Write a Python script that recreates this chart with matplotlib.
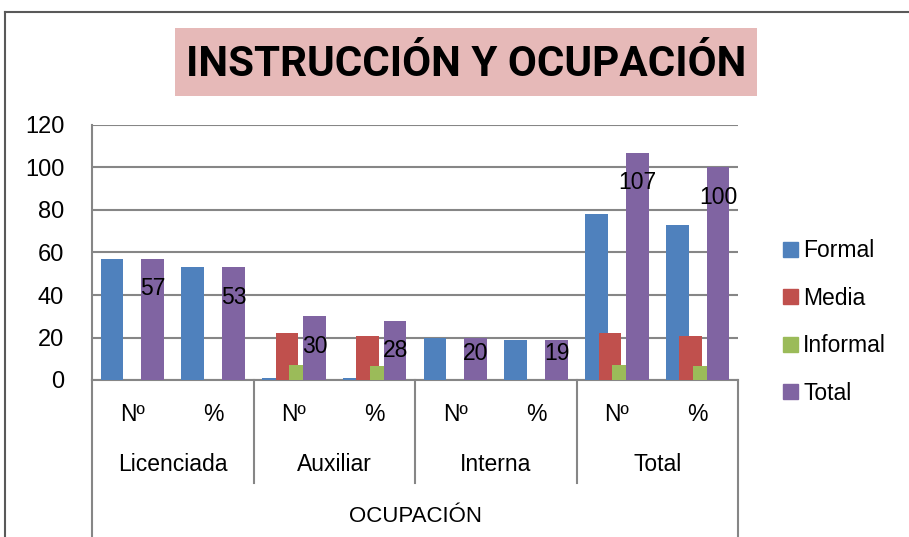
import numpy as np
import matplotlib.pyplot as plt
from matplotlib.lines import Line2D
from matplotlib.patches import Patch, Rectangle
import matplotlib.transforms as mtransforms

groups = ["Licenciada", "Auxiliar", "Interna", "Total"]
sub_labels = ["Nº", "%"]
series_names = ["Formal", "Media", "Informal", "Total"]
formal = [57, 53, 1, 1, 20, 19, 78, 73]
media = [0, 0, 22, 20.5, 0, 0, 22, 20.5]
informal = [0, 0, 7, 6.5, 0, 0, 7, 6.5]
total = [57, 53, 30, 28, 20, 19, 107, 100]
total_labels = ["57", "53", "30", "28", "20", "19", "107", "100"]
colors = ["#4F81BD", "#C0504D", "#9BBB59", "#8064A2"]

plt.rcParams['font.family'] = ['Liberation Sans', 'DejaVu Sans']
FS = 16.5

W, H = 909, 537
fig = plt.figure(figsize=(W / 100, H / 100), dpi=100)
ax = fig.add_axes([92 / W, (H - 380) / H, (738 - 92) / W, (380 - 125) / H])

n = len(formal)
x = np.arange(n) + 0.5
width = 0.281
step = 0.169
offsets = (np.arange(4) - 1.5) * step
for vals, off, col, name in zip([formal, media, informal, total], offsets, colors, series_names):
    ax.bar(x + off, vals, width=width, color=col, label=name, zorder=3)

ax.set_xlim(0, n)
ax.set_ylim(0, 120)

# labels sit inside the bar end, but never drop below the axis
px_per_unit = ax.get_window_extent().height / 120
for xi, v, lab in zip(x + offsets[3], total, total_labels):
    off = min(30, v * px_per_unit - 27)
    ax.annotate(lab, (xi, v), xytext=(0, -off), textcoords='offset pixels',
                ha='center', va='center', fontsize=FS, zorder=4)

ax.set_yticks(range(0, 121, 20))
ax.yaxis.grid(True, color='#868686', linewidth=1.5, zorder=0)
ax.tick_params(axis='y', length=0, pad=20, labelsize=17)
ax.set_xticks([])
for s in ['top', 'right']:
    ax.spines[s].set_visible(False)
for s in ['left', 'bottom']:
    ax.spines[s].set_color('#868686')
    ax.spines[s].set_linewidth(1.5)

# multi-level category axis
trans = mtransforms.blended_transform_factory(ax.transData, ax.transAxes)
for xi in x:
    ax.text(xi, -0.137, sub_labels[int(xi) % 2], transform=trans, ha='center',
            va='center', fontsize=FS)
for gi, g in enumerate(groups):
    ax.text(2 * gi + 1, -0.333, g, transform=trans, ha='center', va='center', fontsize=FS)
ax.text(n / 2, -0.537, "OCUPACIÓN", transform=trans, ha='center', va='center', fontsize=FS - 0.5)
for b in [2, 4, 6]:
    ax.add_line(Line2D([b, b], [0, -0.404], transform=trans, color='#868686',
                       linewidth=1.5, clip_on=False))
for b in [0, n]:
    ax.add_line(Line2D([b, b], [0, -0.62], transform=trans, color='#868686',
                       linewidth=1.5, clip_on=False))

# legend
handles = [Patch(color=c, label=s) for c, s in zip(colors, series_names)]
fig.legend(handles=handles, loc='center left', bbox_to_anchor=(762 / W, (H - 322) / H),
           frameon=False, fontsize=FS, handlelength=0.65, handleheight=0.65,
           handletextpad=0.25, labelspacing=1.07)

# title box + title, sized to the width of the original
fig.add_artist(Rectangle((175 / W, (H - 96) / H), (757 - 175) / W, 68 / H,
                         transform=fig.transFigure, facecolor='#E6B9B8', edgecolor='none'))
title = fig.text(466 / W, (H - 65) / H, "INSTRUCCIÓN Y OCUPACIÓN", ha='center', va='center',
                 fontsize=30, fontweight='bold', family=['Roboto', 'Liberation Sans'])
fig.canvas.draw()
tw = title.get_window_extent().width
title.set_fontsize(30 * 560 / tw)

# chart area border (cropped)
fig.add_artist(Line2D([5 / W, 1], [(H - 12) / H] * 2, transform=fig.transFigure,
                      color='#595959', linewidth=1.5))
fig.add_artist(Line2D([5 / W] * 2, [0, (H - 12) / H], transform=fig.transFigure,
                      color='#595959', linewidth=1.5))

fig.savefig("out.png", dpi=100)
